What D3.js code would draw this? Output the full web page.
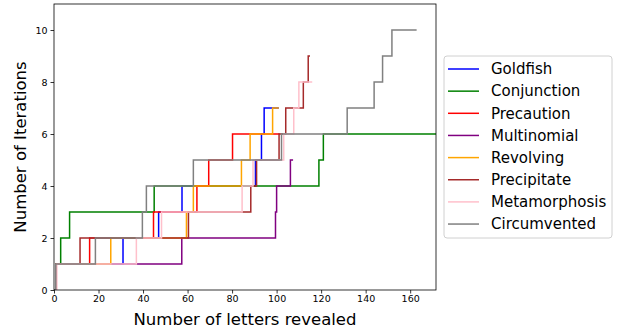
<!DOCTYPE html>
<html>
<head>
<meta charset="utf-8">
<script src="https://cdn.jsdelivr.net/npm/d3@7"></script>
<style>
  body { margin: 0; background: #fff; }
  text { font-family: "DejaVu Sans", sans-serif; }
</style>
</head>
<body>
<div id="chart"></div>
<script>
// each word: [letters revealed, iterations] (step after)
var goldfish = [[0,0],[1,1],[31,2],[47,3],[57.5,4],[90.5,5],[93.2,6],[94.4,7],[101,7]];
var conjunction = [[0,0],[1,1],[3,2],[7,3],[45,4],[119,5],[121,6],[180,6]];
var precaution = [[0,0],[1,1],[16,2],[44.7,3],[64.2,4],[69.5,5],[80.2,6],[101.4,6]];
var multinomial = [[0,0],[1,1],[57.4,2],[99.5,3],[100,4],[106.2,5],[107.4,5]];
var revolving = [[0,0],[1,1],[25.5,2],[59.5,3],[62.6,4],[84.2,5],[88.1,6],[98.2,7],[101,7]];
var precipitate = [[0,0],[1,1],[11.7,2],[60.4,3],[88.4,4],[91,5],[101.1,6],[104.1,7],[112,8],[114.2,9],[115,9]];
var metamorphosis = [[0,0],[1.3,1],[37,2],[48.3,3],[84.5,4],[89.4,5],[103.2,6],[107.7,7],[110,8],[116,8]];
var circumvented = [[0,0],[0.8,1],[18.6,2],[39.7,3],[41.5,4],[62.6,5],[102.2,6],[131.7,7],[143.8,8],[147.6,9],[151.8,10],[162.9,10]];

var names = ["Goldfish","Conjunction","Precaution","Multinomial","Revolving","Precipitate","Metamorphosis","Circumvented"];
var colors = ["blue","green","red","purple","orange","brown","pink","gray"];
var series = [goldfish,conjunction,precaution,multinomial,revolving,precipitate,metamorphosis,circumvented];

var xTicks = [0,20,40,60,80,100,120,140,160];
var yTicks = [0,2,4,6,8,10];

var width = 622, height = 331;
var margin = {left: 54, top: 4, right: 186, bottom: 41};
var plotW = width - margin.left - margin.right,
    plotH = height - margin.top - margin.bottom;

var svg = d3.select("#chart")
  .append("svg")
  .attr("width", width)
  .attr("height", height);

var x = d3.scaleLinear().domain([0, 171.6]).range([0, plotW]),
    y = d3.scaleLinear().domain([0, 11]).range([plotH, 0]);

var g = svg.append("g")
  .attr("transform", "translate(" + margin.left + "," + margin.top + ")");

g.append("clipPath").attr("id", "clip")
  .append("rect").attr("width", plotW).attr("height", plotH);

var line = d3.line()
  .x(function(d) { return x(d[0]); })
  .y(function(d) { return y(d[1]); })
  .curve(d3.curveStepAfter);

g.append("g").attr("clip-path", "url(#clip)")
  .selectAll("path")
  .data(series)
  .enter()
  .append("path")
  .attr("d", line)
  .attr("fill", "none")
  .attr("stroke", function(d, i) { return colors[i]; })
  .attr("stroke-width", 1.5);

// axes
var xAxis = g.append("g")
  .attr("transform", "translate(0," + plotH + ")")
  .call(d3.axisBottom(x).tickValues(xTicks).tickSize(3.5).tickPadding(2));
var yAxis = g.append("g")
  .call(d3.axisLeft(y).tickValues(yTicks).tickSize(3.5).tickPadding(3));

[xAxis, yAxis].forEach(function(a) {
  a.select(".domain").remove();
  a.selectAll("line").attr("stroke", "#000").attr("stroke-width", 0.8);
  a.selectAll("text").attr("font-size", 9.5).attr("fill", "#000")
    .style("font-family", "DejaVu Sans");
});

g.append("rect")
  .attr("width", plotW).attr("height", plotH)
  .attr("fill", "none").attr("stroke", "#000").attr("stroke-width", 0.8);

svg.append("text")
  .attr("x", margin.left + plotW / 2)
  .attr("y", 325)
  .attr("text-anchor", "middle")
  .attr("font-size", 16.5)
  .text("Number of letters revealed");

svg.append("text")
  .attr("transform", "translate(26," + (margin.top + plotH / 2) + ") rotate(-90)")
  .attr("text-anchor", "middle")
  .attr("font-size", 16.5)
  .text("Number of Iterations");

// legend
var legend = svg.append("g").attr("transform", "translate(444,56)");
legend.append("rect")
  .attr("width", 168).attr("height", 182)
  .attr("rx", 3)
  .attr("fill", "#fff").attr("fill-opacity", 0.8)
  .attr("stroke", "#d0d0d0").attr("stroke-width", 1);

var item = legend.selectAll(".item")
  .data(names)
  .enter()
  .append("g")
  .attr("class", "item")
  .attr("transform", function(d, i) { return "translate(0," + (13 + i * 22.15) + ")"; });

item.append("line")
  .attr("x1", 4).attr("x2", 35)
  .attr("stroke", function(d, i) { return colors[i]; })
  .attr("stroke-width", 1.5);

item.append("text")
  .attr("x", 47)
  .attr("dy", "0.35em")
  .attr("font-size", 15)
  .text(function(d) { return d; });
</script>
</body>
</html>
